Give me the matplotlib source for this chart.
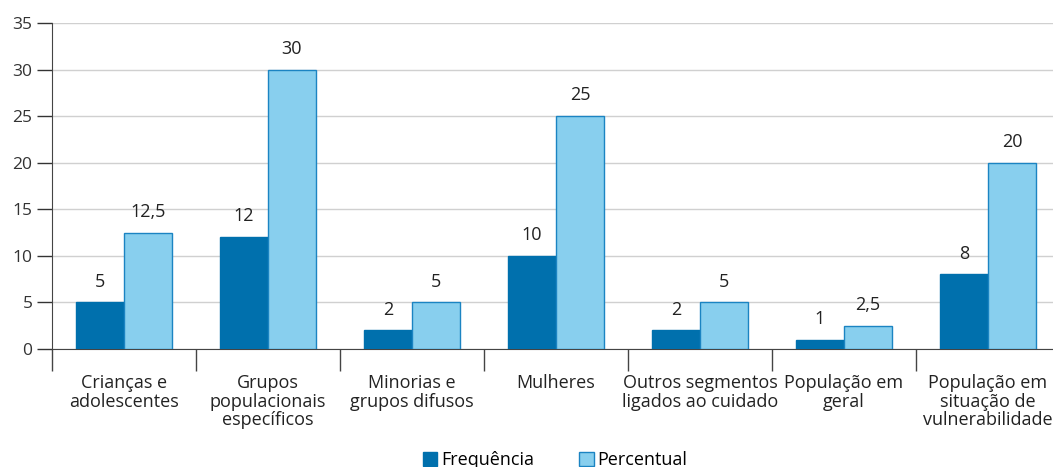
import numpy as np
import matplotlib.pyplot as plt
from matplotlib.patches import Rectangle

# data
categories = ["Crianças e\nadolescentes", "Grupos\npopulacionais\nespecíficos",
              "Minorias e\ngrupos difusos", "Mulheres",
              "Outros segmentos\nligados ao cuidado", "População em\ngeral",
              "População em\nsituação de\nvulnerabilidade"]
frequencia = [5, 12, 2, 10, 2, 1, 8]
percentual = [12.5, 30, 5, 25, 5, 2.5, 20]
freq_labels = ["5", "12", "2", "10", "2", "1", "8"]
perc_labels = ["12,5", "30", "5", "25", "5", "2,5", "20"]
yticks = [0, 5, 10, 15, 20, 25, 30, 35]

dark = "#0070ad"
light = "#88cfee"
light_edge = "#1b84c2"

plt.rcParams['font.family'] = ['Open Sans', 'DejaVu Sans']

fig = plt.figure(figsize=(10.53, 4.67), dpi=100)
ax = fig.add_axes([52 / 1053, 118 / 467, 1008 / 1053, 326 / 467])

x = np.arange(len(categories)) + 0.5
w = 1 / 3
ax.bar(x - w / 2, frequencia, w, color=dark, edgecolor=dark, linewidth=1, zorder=3)
ax.bar(x + w / 2, percentual, w, color=light, edgecolor=light_edge, linewidth=1, zorder=3)

for xi, v, t in zip(x - w / 2, frequencia, freq_labels):
    ax.annotate(t, (xi, v), xytext=(0, 15), textcoords="offset points",
                ha="center", va="center", fontsize=13, color="#222222")
for xi, v, t in zip(x + w / 2, percentual, perc_labels):
    ax.annotate(t, (xi, v), xytext=(0, 15), textcoords="offset points",
                ha="center", va="center", fontsize=13, color="#222222")

ax.set_xlim(0, len(categories))
ax.set_ylim(0, 35)
ax.set_yticks(yticks)
ax.tick_params(axis="y", length=11, width=1, labelsize=12.5, colors="#333333", pad=3)
ax.yaxis.grid(True, color="#d0d0d0", linewidth=1, zorder=0)

# category boundaries as ticks, labels as minor ticks
ax.set_xticks(np.arange(len(categories) + 1))
ax.set_xticklabels([])
ax.tick_params(axis="x", which="major", length=16, width=1, colors="#444444")
ax.set_xticks(x, minor=True)
ax.set_xticklabels(categories, minor=True, fontsize=13, color="#222222", linespacing=1.05)
ax.tick_params(axis="x", which="minor", length=0, pad=18)

for s in ["top", "right"]:
    ax.spines[s].set_visible(False)
ax.spines["left"].set_color("#444444")
ax.spines["bottom"].set_color("#444444")

handles = [Rectangle((0, 0), 1, 1, facecolor=dark, edgecolor=dark),
           Rectangle((0, 0), 1, 1, facecolor=light, edgecolor=light_edge)]
fig.legend(handles, ["Frequência", "Percentual"], loc="center",
           bbox_to_anchor=(555 / 1053, 1 - 460 / 467), ncol=2, frameon=False,
           fontsize=13, handlelength=0.8, handleheight=0.8, handletextpad=0.2,
           columnspacing=2.5)

fig.savefig("out.png", dpi=100)
